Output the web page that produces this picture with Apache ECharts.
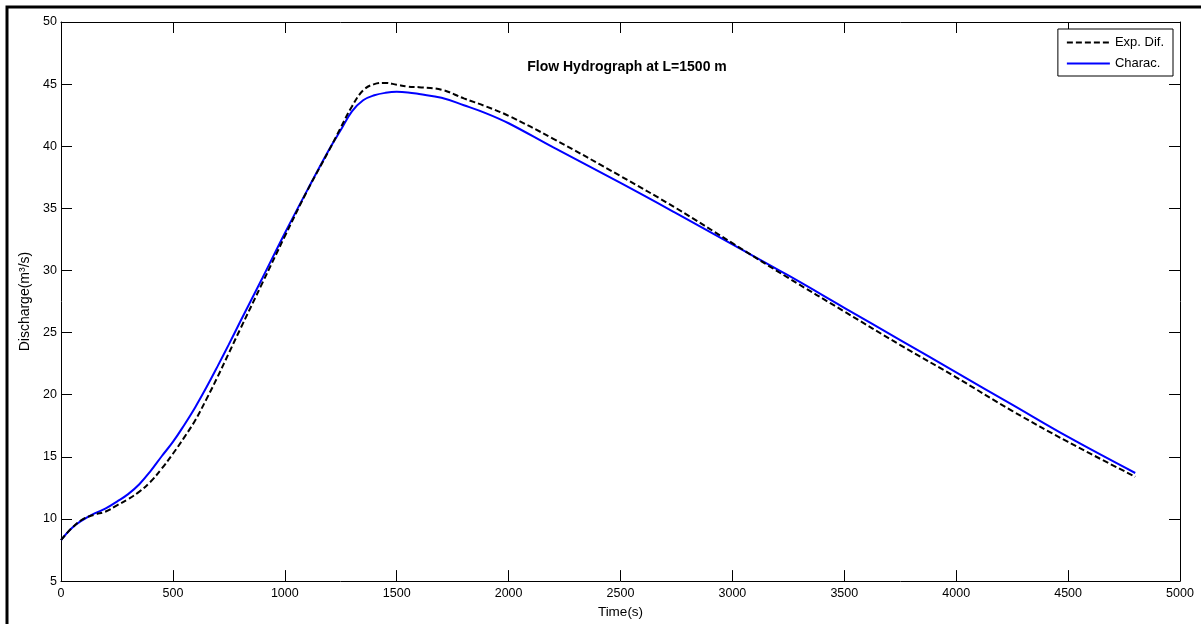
<!DOCTYPE html>
<html>
<head>
<meta charset="utf-8">
<script src="https://cdn.jsdelivr.net/npm/echarts@6/dist/echarts.min.js"></script>
<style>
html,body{margin:0;padding:0;background:#fff;}
#chart{width:1201px;height:624px;}
</style>
</head>
<body>
<div id="chart"></div>
<script>
const times = [0, 50, 100, 150, 200, 250, 300, 350, 400, 450, 500, 550, 600, 650, 700, 750, 800, 900, 1000, 1100, 1200, 1250, 1300, 1350, 1400, 1450, 1500, 1550, 1600, 1700, 1800, 1900, 2000, 2200, 2500, 2750, 3000, 3250, 3500, 3750, 4000, 4250, 4500, 4800];
const expDif = [8.3, 9.3, 10.0, 10.35, 10.6, 11.1, 11.6, 12.2, 13.0, 14.05, 15.25, 16.55, 17.95, 19.65, 21.45, 23.35, 25.25, 29.0, 32.75, 36.4, 39.75, 41.5, 43.2, 44.5, 45.0, 45.1, 44.95, 44.8, 44.75, 44.55, 43.85, 43.2, 42.45, 40.6, 37.6, 35.0, 32.2, 29.4, 26.7, 24.0, 21.4, 18.7, 16.2, 13.4];
const charac = [8.3, 9.3, 9.95, 10.45, 10.85, 11.4, 12.0, 12.8, 13.85, 15.05, 16.2, 17.55, 19.0, 20.6, 22.3, 24.05, 25.85, 29.4, 33.0, 36.45, 39.8, 41.3, 42.8, 43.7, 44.1, 44.3, 44.38, 44.33, 44.2, 43.9, 43.3, 42.65, 41.85, 39.9, 37.05, 34.6, 32.1, 29.6, 27.0, 24.4, 21.8, 19.2, 16.6, 13.7];
const seriesNames = ['Exp. Dif.', 'Charac.'];
const titleText = 'Flow Hydrograph at L=1500 m';
const xName = 'Time(s)';
const yName = 'Discharge(m\u00b3/s)';

const pairs = (arr) => times.map((t, i) => [t, arr[i]]);
const font = 'Liberation Sans, Arial, sans-serif';

const chart = echarts.init(document.getElementById('chart'), null, {renderer: 'canvas'});
const axisCommon = () => ({
  axisLine: {show: true, onZero: false, lineStyle: {color: '#000', width: 1}},
  axisTick: {show: true, inside: true, length: 11, lineStyle: {color: '#000', width: 1}},
  splitLine: {show: false}
});
chart.setOption({
  animation: false,
  backgroundColor: '#fff',
  title: {
    text: titleText,
    left: 622,
    textAlign: 'center',
    top: 55,
    textStyle: {fontFamily: font, fontSize: 14, fontWeight: 'bold', color: '#000'}
  },
  legend: {
    data: seriesNames,
    orient: 'vertical',
    right: 28,
    top: 29,
    itemWidth: 43,
    itemHeight: 12,
    itemGap: 8,
    padding: [7, 9, 6, 8],
    borderColor: '#000',
    borderWidth: 1,
    backgroundColor: '#fff',
    itemStyle: {opacity: 0},
    textStyle: {fontFamily: font, fontSize: 13, color: '#000'}
  },
  grid: {left: 61, top: 22, right: 21, bottom: 39, containLabel: false},
  xAxis: [
    Object.assign({
      type: 'value', min: 0, max: 5000, interval: 500, position: 'bottom',
      name: xName, nameLocation: 'middle', nameGap: 21,
      nameTextStyle: {fontFamily: font, fontSize: 13.5, color: '#000'},
      axisLabel: {fontFamily: font, fontSize: 12.5, color: '#000', margin: 6, formatter: (v) => String(v)}
    }, axisCommon()),
    Object.assign({
      type: 'value', min: 0, max: 5000, interval: 500, position: 'top',
      axisLabel: {show: false}
    }, axisCommon())
  ],
  yAxis: [
    Object.assign({
      type: 'value', min: 5, max: 50, interval: 5, position: 'left',
      name: yName, nameLocation: 'middle', nameGap: 27,
      nameTextStyle: {fontFamily: font, fontSize: 14, color: '#000'},
      axisLabel: {fontFamily: font, fontSize: 12.5, color: '#000', margin: 4, formatter: (v) => String(v)}
    }, axisCommon()),
    Object.assign({
      type: 'value', min: 5, max: 50, interval: 5, position: 'right',
      axisLabel: {show: false}
    }, axisCommon())
  ],
  series: [
    {
      name: seriesNames[0], type: 'line', xAxisIndex: 0, yAxisIndex: 0,
      data: pairs(expDif), smooth: 0.4, showSymbol: false, symbol: 'none',
      lineStyle: {color: '#000', width: 2, type: [6, 3]},
      itemStyle: {color: '#000'}, z: 3
    },
    {
      name: seriesNames[1], type: 'line', xAxisIndex: 0, yAxisIndex: 0,
      data: pairs(charac), smooth: 0.4, showSymbol: false, symbol: 'none',
      lineStyle: {color: '#0000ff', width: 2, type: 'solid'},
      itemStyle: {color: '#0000ff'}, z: 2
    }
  ],
  graphic: [{
    type: 'rect', silent: true,
    shape: {x: 7, y: 7, width: 1400, height: 800},
    style: {fill: 'none', stroke: '#000', lineWidth: 3}
  }]
});
</script>
</body>
</html>
